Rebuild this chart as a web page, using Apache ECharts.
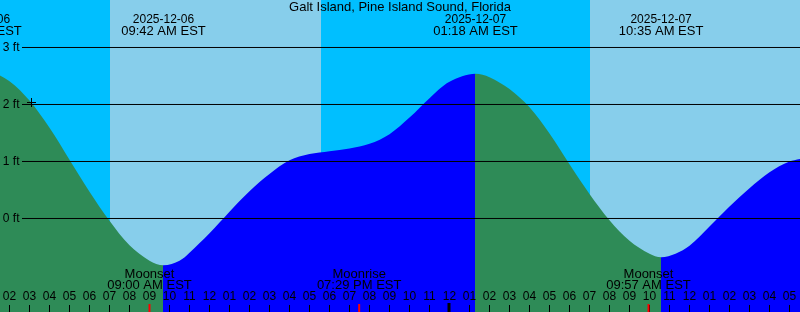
<!DOCTYPE html>
<html><head><meta charset="utf-8">
<script src="https://cdn.jsdelivr.net/npm/echarts@6/dist/echarts.min.js"></script>
<style>html,body{margin:0;padding:0;background:#00BFFF}#c{width:800px;height:312px}</style>
</head><body><div id="c"></div>
<script>
// ---- data ----
const chartTitle = 'Galt Island, Pine Island Sound, Florida';
// hours since 2025-12-06 00:00 EST
const tideHours  = [0.5, 1, 2, 3, 4, 5, 6, 7, 8, 9, 9.7, 10.5, 11, 12, 13, 14, 15, 16, 17, 18, 19, 20, 21, 22, 23, 24, 25.3, 26, 27, 28, 29, 30, 31, 32, 33, 34, 34.58, 35.3, 36, 37, 38, 39, 40, 41, 42];
const tideLevels = [2.62, 2.59, 2.41, 2.07, 1.59, 1.03, 0.47, -0.04, -0.47, -0.74, -0.82, -0.74, -0.60, -0.26, 0.12, 0.48, 0.78, 1.02, 1.13, 1.18, 1.23, 1.31, 1.48, 1.77, 2.11, 2.40, 2.54, 2.48, 2.27, 1.95, 1.49, 0.95, 0.43, -0.03, -0.39, -0.62, -0.68, -0.62, -0.48, -0.14, 0.21, 0.53, 0.81, 1.00, 1.07];
const extremaHours = [0.5, 9.7, 25.3, 34.58];
const extremaKinds = ['high', 'low', 'high', 'low'];
const extremaDates = ['2025-12-06', '2025-12-06', '2025-12-07', '2025-12-07'];
const extremaTimes = ['12:30 AM EST', '09:42 AM EST', '01:18 AM EST', '10:35 AM EST'];
const moonHours = [9, 19.483, 33.95];
const moonNames = ['Moonset', 'Moonrise', 'Moonset'];
const moonTimes = ['09:00 AM EST', '07:29 PM EST', '09:57 AM EST'];
const dayStarts = [7.025, 31.025];
const dayEnds   = [17.575, 41.6];
const tickHours  = [2,3,4,5,6,7,8,9,10,11,12,13,14,15,16,17,18,19,20,21,22,23,24,25,26,27,28,29,30,31,32,33,34,35,36,37,38,39,40,41];
const tickLabels = ['02','03','04','05','06','07','08','09','10','11','12','01','02','03','04','05','06','07','08','09','10','11','12','01','02','03','04','05','06','07','08','09','10','11','12','01','02','03','04','05'];
const midnightHours = [24];
const levelTicks  = [0, 1, 2, 3];
const levelLabels = ['0 ft', '1 ft', '2 ft', '3 ft'];
const nowMark = [3.06, 2.05];

// ---- layout / style ----
const xMin = 1.525, xMax = 41.525, yMin = -1.6404, yMax = 3.8333;
const gridStart = 2.625;
const NIGHT = '#00BFFF', DAY = '#87CEEB', FALL = '#2E8B57', RISE = '#0000FF';
const FONT = '"Liberation Sans", Arial, sans-serif';

const pieces = [{ lt: extremaHours[0], color: RISE }];
for (let i = 0; i < extremaHours.length; i++) {
  const p = { gte: extremaHours[i], color: extremaKinds[i] === 'high' ? FALL : RISE };
  if (i < extremaHours.length - 1) p.lt = extremaHours[i + 1];
  pieces.push(p);
}

const chart = echarts.init(document.getElementById('c'), null, { renderer: 'canvas' });
chart.setOption({
  animation: false,
  backgroundColor: NIGHT,
  title: { text: chartTitle, left: 'center', top: 0, padding: 0,
    textStyle: { fontSize: 13, fontWeight: 'normal', fontFamily: FONT, color: '#000', lineHeight: 14 } },
  grid: { left: 0, right: 0, top: 0, bottom: 0 },
  xAxis: { type: 'value', min: xMin, max: xMax, show: false },
  yAxis: { type: 'value', min: yMin, max: yMax, show: false },
  visualMap: { show: false, type: 'piecewise', dimension: 0, seriesIndex: 1, pieces: pieces },
  series: [
    { // daylight bands
      type: 'custom', z: 1, silent: true,
      data: dayStarts.map((s, i) => [s, dayEnds[i]]),
      renderItem: (params, api) => {
        const a = api.coord([api.value(0), yMax]);
        const b = api.coord([api.value(1), yMin]);
        return { type: 'rect', shape: { x: a[0], y: a[1], width: b[0] - a[0], height: b[1] - a[1] }, style: { fill: DAY } };
      }
    },
    { // tide
      type: 'line', z: 2, silent: true, showSymbol: false, smooth: 0.33,
      data: tideHours.map((h, i) => [h, tideLevels[i]]),
      lineStyle: { width: 0 },
      areaStyle: { opacity: 1, origin: 'start' }
    },
    { // level grid lines
      type: 'custom', z: 3, silent: true,
      data: levelTicks.map(v => [gridStart, v]),
      renderItem: (params, api) => {
        const a = api.coord([api.value(0), api.value(1)]);
        const b = api.coord([xMax, api.value(1)]);
        return { type: 'group', children: [
          { type: 'line', shape: { x1: a[0], y1: a[1], x2: b[0], y2: b[1] }, style: { stroke: '#000', lineWidth: 1 } },
          { type: 'text', style: { text: levelLabels[params.dataIndex], x: a[0] - 2.5, y: a[1], align: 'right', verticalAlign: 'middle', font: '12px ' + FONT, fill: '#000' } }
        ] };
      }
    },
    { // hour ticks
      type: 'custom', z: 4, silent: true,
      data: tickHours.map(h => [h, yMin]),
      renderItem: (params, api) => {
        const p = api.coord([api.value(0), api.value(1)]);
        return { type: 'group', children: [
          { type: 'line', shape: { x1: p[0], y1: p[1] - 7, x2: p[0], y2: p[1] }, style: { stroke: '#000', lineWidth: 1 } },
          { type: 'text', style: { text: tickLabels[params.dataIndex], x: p[0], y: p[1] - 15, align: 'center', verticalAlign: 'middle', font: '12px ' + FONT, fill: '#000' } }
        ] };
      }
    },
    { // midnight
      type: 'custom', z: 5, silent: true,
      data: midnightHours.map(h => [h, yMin]),
      renderItem: (params, api) => {
        const p = api.coord([api.value(0), api.value(1)]);
        return { type: 'line', shape: { x1: p[0] - 0.5, y1: p[1] - 9, x2: p[0] - 0.5, y2: p[1] }, style: { stroke: '#000', lineWidth: 3 } };
      }
    },
    { // moon events
      type: 'custom', z: 5, silent: true,
      data: moonHours.map(h => [h, yMin]),
      renderItem: (params, api) => {
        const p = api.coord([api.value(0), api.value(1)]);
        return { type: 'group', children: [
          { type: 'line', shape: { x1: p[0], y1: p[1] - 8, x2: p[0], y2: p[1] }, style: { stroke: '#FF0000', lineWidth: 2 } },
          { type: 'text', style: { text: moonNames[params.dataIndex], x: p[0], y: p[1] - 38, align: 'center', verticalAlign: 'middle', font: '13px ' + FONT, fill: '#000' } },
          { type: 'text', style: { text: moonTimes[params.dataIndex], x: p[0], y: p[1] - 26.5, align: 'center', verticalAlign: 'middle', font: '13px ' + FONT, fill: '#000' } }
        ] };
      }
    },
    { // tide extrema labels
      type: 'custom', z: 5, silent: true,
      data: extremaHours.map(h => [h, yMax]),
      renderItem: (params, api) => {
        const p = api.coord([api.value(0), api.value(1)]);
        return { type: 'group', children: [
          { type: 'text', style: { text: extremaDates[params.dataIndex], x: p[0], y: p[1] + 19.5, align: 'center', verticalAlign: 'middle', font: '12px ' + FONT, fill: '#000' } },
          { type: 'text', style: { text: extremaTimes[params.dataIndex], x: p[0], y: p[1] + 31.3, align: 'center', verticalAlign: 'middle', font: '13px ' + FONT, fill: '#000' } }
        ] };
      }
    },
    { // now marker
      type: 'custom', z: 6, silent: true,
      data: [nowMark],
      renderItem: (params, api) => {
        const p = api.coord([api.value(0), api.value(1)]);
        const x = Math.round(p[0]) + 0.5, y = Math.round(p[1]) + 0.5;
        return { type: 'group', children: [
          { type: 'line', shape: { x1: x - 4.5, y1: y, x2: x + 4.5, y2: y }, style: { stroke: '#000', lineWidth: 1 } },
          { type: 'line', shape: { x1: x, y1: y - 4.5, x2: x, y2: y + 4.5 }, style: { stroke: '#000', lineWidth: 1 } }
        ] };
      }
    }
  ]
});
</script></body></html>
